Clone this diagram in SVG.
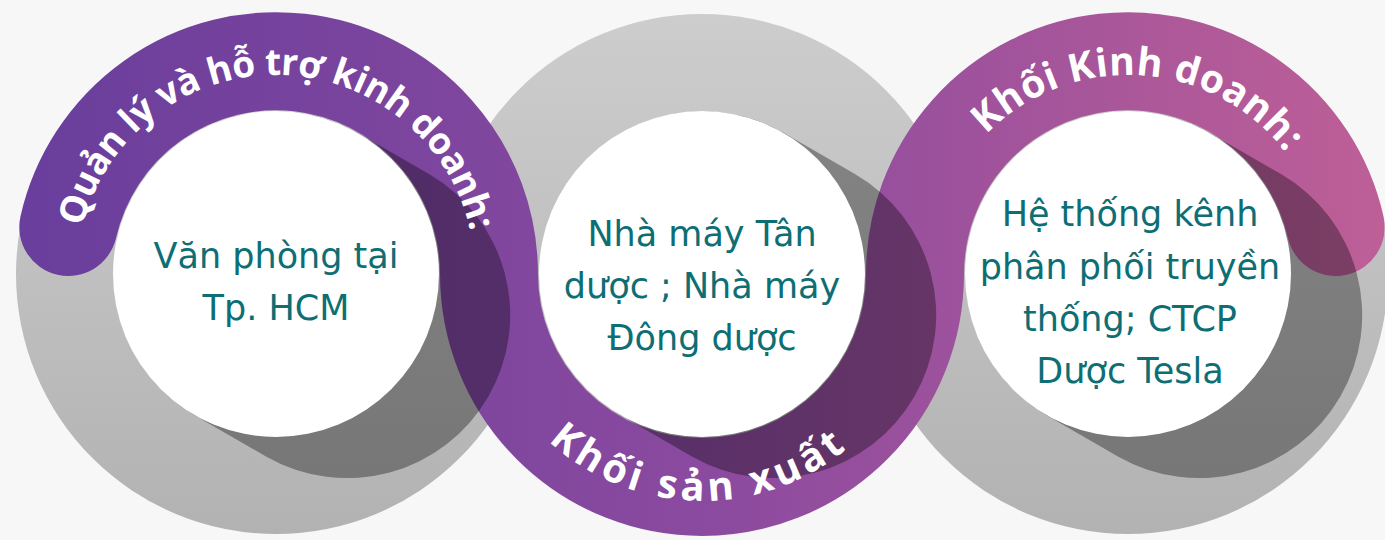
<svg xmlns="http://www.w3.org/2000/svg" width="1385" height="540" viewBox="0 0 1385 540">
<defs>
<linearGradient id="gray" x1="0" y1="0" x2="0" y2="1"><stop offset="0" stop-color="#cdcdcd"/><stop offset="1" stop-color="#b2b2b2"/></linearGradient>
<linearGradient id="band" gradientUnits="userSpaceOnUse" x1="20" y1="0" x2="1385" y2="0"><stop offset="0" stop-color="#693e9c"/><stop offset="0.5" stop-color="#8a4a9f"/><stop offset="1" stop-color="#be5f97"/></linearGradient>
<clipPath id="clip1"><circle cx="276" cy="274" r="260"/></clipPath>
<clipPath id="clip2"><circle cx="702" cy="274" r="260"/></clipPath>
<clipPath id="clip3"><circle cx="1128" cy="274" r="260"/></clipPath>
<path id="arc1" d="M 77.76 291.34 A 199 199 0 1 1 474.24 291.34"/>
<path id="arc2" d="M 475 274 A 227 227 0 0 0 929 274"/>
<path id="arc3" d="M 929.76 291.34 A 199 199 0 1 1 1326.24 291.34"/>
</defs>
<style>
.ring{fill:url(#gray)}
.ribbon{fill:none;stroke:url(#band);stroke-width:98;stroke-linecap:round}
.shadow{fill:#000;fill-opacity:0.34}
.core{fill:#fff}
.body{font-family:"DejaVu Sans",sans-serif;font-size:35px;fill:#0d6e74;text-anchor:middle}
.title{font-family:"Open Sans","DejaVu Sans",sans-serif;font-weight:bold;fill:#fff;text-anchor:middle}
</style>
<rect width="1385" height="540" fill="#f7f7f7"/>
<g id="rings">
<circle class="ring" cx="276" cy="274" r="260"/>
<circle class="ring" cx="1128" cy="274" r="260"/>
<circle class="ring" cx="702" cy="274" r="260"/>
</g>
<g id="connectors">
<path id="ribbon" class="ribbon" d="M 68.3 227 A 213 213 0 0 1 489 274 A 213 213 0 0 0 915 274 A 213 213 0 0 1 1335.7 227"/>
<path class="shadow" clip-path="url(#clip1)" d="M 357.5 132.84 L 429.38 174.34 A 163 163 0 0 1 266.38 456.66 L 194.5 415.16 A 163 163 0 0 1 357.5 132.84 Z"/>
<path class="shadow" clip-path="url(#clip2)" d="M 783.5 132.84 L 855.38 174.34 A 163 163 0 0 1 692.38 456.66 L 620.5 415.16 A 163 163 0 0 1 783.5 132.84 Z"/>
<path class="shadow" clip-path="url(#clip3)" d="M 1209.5 132.84 L 1281.38 174.34 A 163 163 0 0 1 1118.38 456.66 L 1046.5 415.16 A 163 163 0 0 1 1209.5 132.84 Z"/>
</g>
<g id="node-1">
<circle class="core" cx="276" cy="274" r="163"/>
<text class="body" x="276" y="268">Văn phòng tại</text>
<text class="body" x="276" y="320">Tp. HCM</text>
<text class="title" font-size="37"><textPath href="#arc1" startOffset="332" textLength="535" lengthAdjust="spacing">Quản lý và hỗ trợ kinh doanh:</textPath></text>
</g>
<g id="node-2">
<circle class="core" cx="702" cy="274" r="163"/>
<text class="body" x="702" y="246">Nhà máy Tân</text>
<text class="body" x="702" y="298">dược ; Nhà máy</text>
<text class="body" x="702" y="350">Đông dược</text>
<text class="title" font-size="40"><textPath href="#arc2" startOffset="350" textLength="325" lengthAdjust="spacing">Khối sản xuất</textPath></text>
</g>
<g id="node-3">
<circle class="core" cx="1128" cy="274" r="163"/>
<text class="body" x="1130" y="226">Hệ thống kênh</text>
<text class="body" x="1130" y="279">phân phối truyền</text>
<text class="body" x="1130" y="331">thống; CTCP</text>
<text class="body" x="1130" y="383">Dược Tesla</text>
<text class="title" font-size="39"><textPath href="#arc3" startOffset="341.9" textLength="340" lengthAdjust="spacing">Khối Kinh doanh:</textPath></text>
</g>
</svg>
